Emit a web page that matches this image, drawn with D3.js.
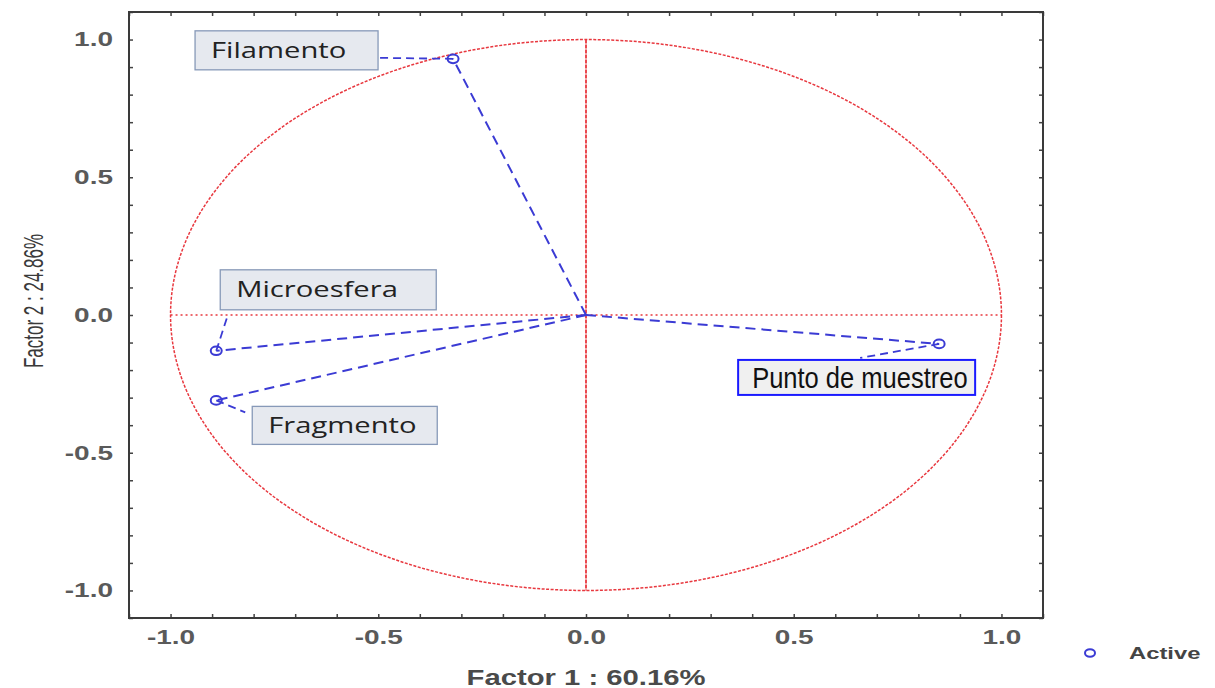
<!DOCTYPE html>
<html><head><meta charset="utf-8">
<script src="https://cdn.jsdelivr.net/npm/d3@7"></script>
<style>body{margin:0;background:#fff}</style>
</head><body>
<svg id="c" width="1215" height="688"></svg>
<script>
const names = ["Filamento", "Microesfera", "Fragmento", "Punto de muestreo"];
const factor1 = [-0.32, -0.89, -0.89, 0.85];
const factor2 = [0.93, -0.13, -0.31, -0.105];
const tickValues = [-1.0, -0.5, 0.0, 0.5, 1.0];
const xTitle = "Factor 1 : 60.16%";
const yTitle = "Factor 2 : 24.86%";
const legendLabel = "Active";

const svg = d3.select("#c");
const L = 129, R = 1043, T = 12, B = 618;
const x = d3.scaleLinear().domain([-1.1, 1.1]).range([L, R]);
const y = d3.scaleLinear().domain([-1.1, 1.1]).range([B, T]);
const minor = d3.range(-11, 12).map(d => d / 10);
const SX = 1.4; // horizontal stretch of the reference image

const fmt = d => d.toFixed(1);
const gx = svg.append("g").attr("transform", `translate(0,${B})`)
  .call(d3.axisBottom(x).tickValues(tickValues).tickSize(0).tickPadding(18).tickFormat(fmt));
const gy = svg.append("g").attr("transform", `translate(${L},0)`)
  .call(d3.axisLeft(y).tickValues(tickValues).tickSize(0).tickPadding(16).tickFormat(fmt));
[gx, gy].forEach(g => {
  g.select(".domain").remove();
  g.selectAll("text").attr("font-family", "Liberation Sans, Arial, sans-serif")
    .attr("font-size", 20).attr("font-weight", "bold").attr("fill", "#5a5a5a");
});
gx.selectAll("text").attr("dy", "0.4em").attr("transform", `scale(${SX},1)`);
gy.selectAll("text").attr("x", -16 / SX).attr("transform", `scale(${SX},1)`);

function ticks(gen, tr) {
  svg.append("g").attr("transform", tr).call(gen.tickValues(minor).tickSize(4).tickFormat(""))
    .call(g => g.select(".domain").remove());
}
ticks(d3.axisTop(x), `translate(0,${B})`);
ticks(d3.axisBottom(x), `translate(0,${T})`);
ticks(d3.axisRight(y), `translate(${L},0)`);
ticks(d3.axisLeft(y), `translate(${R},0)`);
svg.selectAll(".tick line").attr("stroke", "#444").attr("stroke-width", 1.5);

svg.append("rect").attr("x", L).attr("y", T).attr("width", R - L).attr("height", B - T)
  .attr("fill", "none").attr("stroke", "#3a3a3a").attr("stroke-width", 2);

const red = "#e8383f";
svg.append("ellipse").attr("cx", x(0)).attr("cy", y(0))
  .attr("rx", x(1) - x(0)).attr("ry", y(0) - y(1))
  .attr("fill", "none").attr("stroke", red).attr("stroke-width", 1.5).attr("stroke-dasharray", "3,1.5");
svg.append("line").attr("x1", x(-1)).attr("x2", x(1)).attr("y1", y(0)).attr("y2", y(0))
  .attr("stroke", red).attr("stroke-width", 1.4).attr("stroke-dasharray", "2,3");
svg.append("line").attr("x1", x(0)).attr("x2", x(0)).attr("y1", y(1)).attr("y2", y(-1))
  .attr("stroke", red).attr("stroke-width", 1.8).attr("stroke-dasharray", "4,1");

const blue = "#3b3bd4";
names.forEach((n, i) => {
  svg.append("line").attr("x1", x(0)).attr("y1", y(0)).attr("x2", x(factor1[i])).attr("y2", y(factor2[i]))
    .attr("stroke", blue).attr("stroke-width", 2).attr("stroke-dasharray", "10,6");
});

const boxes = [
  {dx: -258, dy: -28, w: 183, h: 39, lx: -75, ly: -1},
  {dx: 4, dy: -81, w: 216, h: 40, lx: 12, ly: -37},
  {dx: 36, dy: 6, w: 185, h: 38, lx: 29, ly: 12},
  {dx: -201, dy: 16, w: 237, h: 35, lx: -79, ly: 14}
];
names.forEach((n, i) => {
  const px = x(factor1[i]), py = y(factor2[i]), b = boxes[i];
  svg.append("line").attr("x1", px).attr("y1", py).attr("x2", px + b.lx).attr("y2", py + b.ly)
    .attr("stroke", blue).attr("stroke-width", 1.8).attr("stroke-dasharray", "8,5");
});
names.forEach((n, i) => {
  const px = x(factor1[i]), py = y(factor2[i]), b = boxes[i];
  const isLast = i === 3;
  svg.append("rect").attr("x", px + b.dx).attr("y", py + b.dy).attr("width", b.w).attr("height", b.h)
    .attr("fill", isLast ? "#f0f0f0" : "#e6e9ef")
    .attr("stroke", isLast ? "#1a1aff" : "#8799b8").attr("stroke-width", isLast ? 2 : 1.3);
  const tx = px + b.dx + (isLast ? 14 : 16), ty = py + b.dy + b.h / 2;
  svg.append("text").attr("transform", `translate(${tx},${ty}) scale(${isLast ? 0.88 : 1.39},1)`)
    .attr("dy", "0.36em")
    .attr("font-family", isLast ? "Liberation Sans, Arial, sans-serif" : "Open Sans, Lato, sans-serif")
    .attr("font-size", isLast ? 29 : 21).attr("fill", isLast ? "#111" : "#222").text(n);
});
names.forEach((n, i) => {
  svg.append("ellipse").attr("cx", x(factor1[i])).attr("cy", y(factor2[i])).attr("rx", 5.5).attr("ry", 4.3)
    .attr("fill", "none").attr("stroke", blue).attr("stroke-width", 2);
});

svg.append("text").attr("transform", `translate(${x(0)},677) scale(1.33,1)`).attr("text-anchor", "middle").attr("dy", "0.35em")
  .attr("font-family", "Liberation Sans, Arial, sans-serif").attr("font-size", 22).attr("font-weight", "bold")
  .attr("fill", "#4a4a4a").text(xTitle);
svg.append("text").attr("transform", `translate(33,301) scale(1.6,1) rotate(-90)`).attr("text-anchor", "middle").attr("dy", "0.35em")
  .attr("font-family", "Liberation Sans, Arial, sans-serif").attr("font-size", 17)
  .attr("fill", "#3a3a3a").text(yTitle);

svg.append("ellipse").attr("cx", 1090).attr("cy", 653).attr("rx", 5).attr("ry", 3.8).attr("fill", "none").attr("stroke", blue).attr("stroke-width", 2);
svg.append("text").attr("transform", `translate(1129,653) scale(1.4,1)`).attr("dy", "0.35em")
  .attr("font-family", "Liberation Sans, Arial, sans-serif").attr("font-size", 17).attr("font-weight", "bold")
  .attr("fill", "#444").text(legendLabel);
</script>
</body></html>
